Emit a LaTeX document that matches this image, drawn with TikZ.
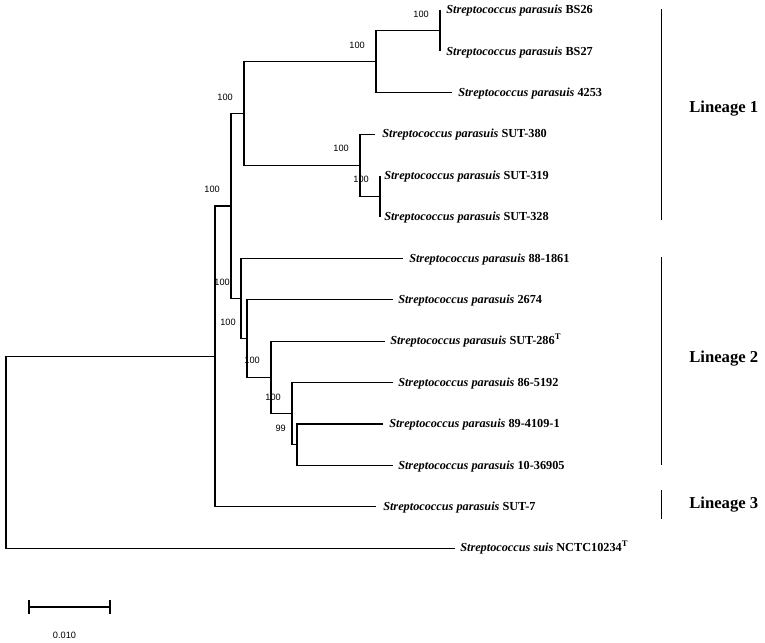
\documentclass[tikz,border=0pt]{standalone}
\usepackage{fontspec}
\setmainfont{Liberation Serif}
\newfontfamily\bootfont{Liberation Sans}
\begin{document}
\begin{tikzpicture}[x=0.75pt,y=-0.75pt,
  branch/.style={line width=0.95pt,black},
  bar/.style={line width=0.8pt,black},
  taxon/.style={anchor=base west,inner sep=0pt,font=\fontsize{9.2}{11}\selectfont\bfseries},
  boot/.style={anchor=base east,inner sep=0pt,font=\bootfont\fontsize{6.9}{8}\selectfont},
  lineage/.style={anchor=base west,inner sep=0pt,font=\fontsize{12.5}{14}\selectfont\bfseries}]
\useasboundingbox (0,0) rectangle (765,643);
% leaf end coordinates
\coordinate (e1) at (440,10);
\coordinate (e2) at (440,51.4);
\coordinate (e3) at (452,92.8);
\coordinate (e4) at (375,134.2);
\coordinate (e5) at (380,175.6);
\coordinate (e6) at (380,217);
\coordinate (e7) at (403,258.4);
\coordinate (e8) at (393,299.8);
\coordinate (e9) at (385,341.2);
\coordinate (e10) at (393,382.6);
\coordinate (e11) at (383,424);
\coordinate (e12) at (393,465.4);
\coordinate (e13) at (376,506.8);
\coordinate (e14) at (455,548.2);
% internal nodes
\coordinate (n1) at (440,30.7);
\coordinate (n2) at (376,61.75);
\coordinate (n3) at (380,196.3);
\coordinate (n4) at (360,165.25);
\coordinate (n5) at (244,113.5);
\coordinate (n6) at (297,444.7);
\coordinate (n7) at (292,413.65);
\coordinate (n8) at (271,377.4);
\coordinate (n9) at (247,338.6);
\coordinate (n10) at (241,298.5);
\coordinate (n11) at (231,206);
\coordinate (n12) at (215,356.4);
\coordinate (root) at (6,452.3);
% branches
\draw[branch] (e1) -- (e2);
\draw[branch] (n2) |- (n1);
\draw[branch] (n2) |- (e3);
\draw[branch] (e5) -- (e6);
\draw[branch] (n4) |- (e4);
\draw[branch] (n4) |- (n3);
\draw[branch] (n5) |- (n2);
\draw[branch] (n5) |- (n4);
\draw[branch] (n6) |- (e11);
\draw[branch] (n6) |- (e12);
\draw[branch] (n7) |- (e10);
\draw[branch] (n7) |- (n6);
\draw[branch] (n8) |- (e9);
\draw[branch] (n8) |- (n7);
\draw[branch] (n9) |- (e8);
\draw[branch] (n9) |- (n8);
\draw[branch] (n10) |- (e7);
\draw[branch] (n10) |- (n9);
\draw[branch] (n11) |- (n5);
\draw[branch] (n11) |- (n10);
\draw[branch] (n12) |- (n11);
\draw[branch] (n12) |- (e13);
\draw[branch] (root) |- (n12);
\draw[branch] (root) |- (e14);
% bootstrap values
\node[boot] (b1) at ([shift={(-11,-13.5)}]n1) {100};
\node[boot] (b2) at ([shift={(-11,-13.5)}]n2) {100};
\node[boot] (b3) at ([shift={(-11,-13.5)}]n3) {100};
\node[boot] (b4) at ([shift={(-11,-13.5)}]n4) {100};
\node[boot] (b5) at ([shift={(-11,-13.5)}]n5) {100};
\node[boot] (b6) at ([shift={(-11,-13.5)}]n6) {99};
\node[boot] (b7) at ([shift={(-11,-13.5)}]n7) {100};
\node[boot] (b8) at ([shift={(-11,-13.5)}]n8) {100};
\node[boot] (b9) at ([shift={(-11,-13.5)}]n9) {100};
\node[boot] (b10) at ([shift={(-11,-13.5)}]n10) {100};
\node[boot] (b11) at ([shift={(-11,-13.5)}]n11) {100};
% taxa
\newcommand{\spar}{\textit{Streptococcus parasuis}}
\node[taxon] (t1) at ([shift={(6,3.7)}]e1) {\spar{} BS26};
\node[taxon] (t2) at ([shift={(6,3.7)}]e2) {\spar{} BS27};
\node[taxon] (t3) at ([shift={(6,3.7)}]e3) {\spar{} 4253};
\node[taxon] (t4) at ([shift={(7,3.7)}]e4) {\spar{} SUT-380};
\node[taxon] (t5) at ([shift={(4,3.7)}]e5) {\spar{} SUT-319};
\node[taxon] (t6) at ([shift={(4,3.7)}]e6) {\spar{} SUT-328};
\node[taxon] (t7) at ([shift={(6,3.7)}]e7) {\spar{} 88-1861};
\node[taxon] (t8) at ([shift={(5,3.7)}]e8) {\spar{} 2674};
\node[taxon] (t9) at ([shift={(5,3.7)}]e9) {\spar{} SUT-286\textsuperscript{T}};
\node[taxon] (t10) at ([shift={(5,3.7)}]e10) {\spar{} 86-5192};
\node[taxon] (t11) at ([shift={(6,3.7)}]e11) {\spar{} 89-4109-1};
\node[taxon] (t12) at ([shift={(5,3.7)}]e12) {\spar{} 10-36905};
\node[taxon] (t13) at ([shift={(7,3.7)}]e13) {\spar{} SUT-7};
\node[taxon] (t14) at ([shift={(5,3.7)}]e14) {\textit{Streptococcus suis} NCTC10234\textsuperscript{T}};
% lineage bars
\coordinate (L1a) at (661.5,9);  \coordinate (L1b) at (661.5,220);
\coordinate (L2a) at (661.5,257); \coordinate (L2b) at (661.5,465);
\coordinate (L3a) at (661.5,490); \coordinate (L3b) at (661.5,519);
\draw[bar] (L1a) -- (L1b);
\draw[bar] (L2a) -- (L2b);
\draw[bar] (L3a) -- (L3b);
\node[lineage] (g1) at (689,112.3) {Lineage 1};
\node[lineage] (g2) at (689,362.3) {Lineage 2};
\node[lineage] (g3) at (689,508.3) {Lineage 3};
% scale bar
\coordinate (s1) at (29,607);
\coordinate (s2) at (110,607);
\draw[branch] (s1) -- (s2);
\draw[branch] ([yshift=-5]s1) -- ([yshift=5]s1);
\draw[branch] ([yshift=-5]s2) -- ([yshift=5]s2);
\node[font=\bootfont\fontsize{6.9}{8}\selectfont,inner sep=0pt] (sl) at (64.5,635) {0.010};
\end{tikzpicture}
\end{document}
